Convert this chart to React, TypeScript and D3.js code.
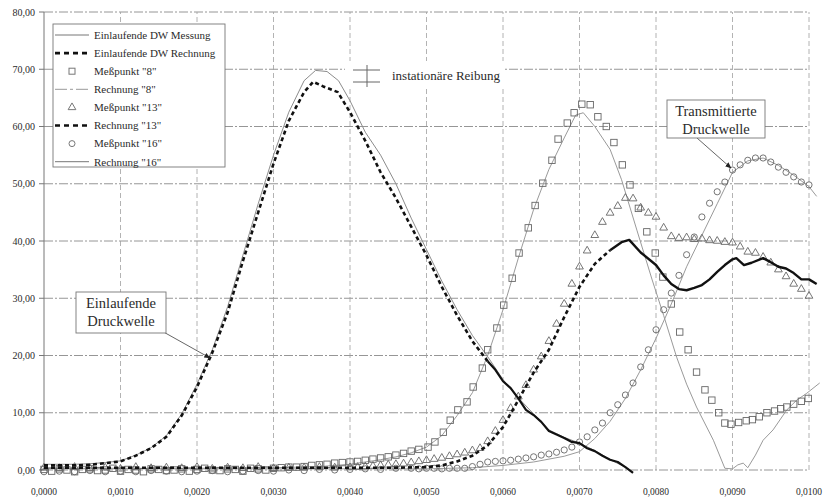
import React, { useEffect, useRef } from 'react';
import * as d3 from 'd3';

type Pt = [number, number]; // [Zeit in ms, Druck]

// Achsen
const xTicks = [0, 1, 2, 3, 4, 5, 6, 7, 8, 9, 10];
const yTicks = [0, 10, 20, 30, 40, 50, 60, 70, 80];

// Einlaufende Druckwelle
const einlMessung: Pt[] = [
  [0, 1.0], [0.4, 1.0], [0.6, 1.1], [0.8, 1.3], [1.0, 1.6], [1.2, 2.6], [1.4, 3.9], [1.6, 6.0],
  [1.8, 9.8], [2.0, 15.0], [2.2, 21.0], [2.4, 28.5], [2.6, 37.5], [2.8, 46.5], [3.0, 55.0],
  [3.2, 62.5], [3.4, 68.0], [3.55, 69.8], [3.7, 69.6], [3.85, 68.0], [4.0, 64.5], [4.2, 59.0],
  [4.4, 55.0], [4.6, 50.0], [4.8, 44.0], [5.0, 38.5], [5.2, 33.0], [5.4, 28.0], [5.6, 23.5],
  [5.8, 19.8], [6.0, 15.8], [6.2, 12.6], [6.4, 9.8], [6.6, 7.0], [6.8, 5.7], [7.0, 4.7],
  [7.2, 3.4], [7.4, 1.8], [7.6, 0.5], [7.7, -0.4],
];
const einlRechnung: Pt[] = [
  [0, 0.8], [0.4, 0.8], [0.6, 0.9], [0.8, 1.2], [1.0, 1.5], [1.2, 2.5], [1.4, 3.8], [1.6, 5.8],
  [1.8, 9.5], [2.0, 14.5], [2.2, 20.5], [2.4, 27.5], [2.6, 36.5], [2.8, 45.0], [3.0, 53.5],
  [3.2, 61.0], [3.4, 66.0], [3.52, 67.8], [3.65, 67.0], [3.84, 66.0], [4.0, 62.5], [4.2, 57.5],
  [4.4, 52.0], [4.6, 47.5], [4.8, 42.5], [5.0, 37.5], [5.2, 32.0], [5.4, 27.0], [5.6, 22.5],
  [5.8, 19.0], [5.9, 17.5], [6.0, 15.5], [6.1, 14.3], [6.2, 12.5], [6.3, 10.5], [6.4, 9.6],
  [6.5, 8.4], [6.6, 6.8], [6.7, 6.2], [6.8, 5.6], [6.9, 4.9], [7.0, 4.7], [7.1, 3.8],
  [7.2, 3.3], [7.3, 2.5], [7.4, 1.8], [7.5, 1.4], [7.6, 0.5], [7.7, -0.5],
];

// Meßpunkt "8"
const mp8: Pt[] = [
  [0.0, 0.1], [0.1, -0.2], [0.2, 0.2], [0.3, 0.0], [0.4, -0.3], [0.5, 0.1], [0.6, 0.2], [0.7, -0.1],
  [0.8, 0.0], [0.9, 0.3], [1.0, -0.2], [1.1, 0.1], [1.2, 0.0], [1.3, -0.3], [1.4, 0.2], [1.5, 0.1],
  [1.6, -0.1], [1.7, 0.0], [1.8, 0.2], [1.9, -0.2], [2.0, 0.1], [2.1, 0.3], [2.2, 0.0], [2.3, -0.1],
  [2.4, 0.2], [2.5, 0.1], [2.6, -0.2], [2.7, 0.3], [2.8, 0.2], [2.9, 0.0], [3.0, 0.3], [3.1, 0.4],
  [3.2, 0.5], [3.3, 0.5], [3.4, 0.6], [3.5, 0.8], [3.6, 0.9], [3.7, 1.0], [3.8, 1.2], [3.9, 1.3],
  [4.0, 1.4], [4.1, 1.5], [4.2, 1.7], [4.3, 1.9], [4.4, 2.1], [4.5, 2.3], [4.6, 2.6], [4.7, 2.9],
  [4.8, 3.3], [4.9, 3.6], [5.02, 4.0], [5.11, 4.9], [5.22, 6.6], [5.31, 8.7], [5.41, 10.5],
  [5.53, 11.9], [5.61, 14.5], [5.73, 17.8], [5.8, 21.0], [5.92, 24.8], [6.01, 28.8], [6.12, 33.5],
  [6.21, 37.9], [6.33, 42.3], [6.42, 46.2], [6.52, 50.1], [6.64, 54.1], [6.72, 57.8], [6.84, 60.6],
  [6.93, 62.4], [7.03, 63.9], [7.14, 63.8], [7.24, 61.7], [7.35, 60.0], [7.45, 57.2], [7.56, 53.3],
  [7.66, 49.8], [7.77, 45.7], [7.88, 41.6], [7.99, 37.9], [8.09, 33.7], [8.2, 29.0], [8.31, 24.1],
  [8.42, 21.0], [8.53, 17.1], [8.64, 14.0], [8.73, 12.2], [8.82, 10.0], [8.9, 8.2], [8.98, 8.0],
  [9.08, 8.3], [9.18, 8.6], [9.26, 8.8], [9.35, 9.3], [9.45, 10.0], [9.55, 10.3], [9.63, 10.7],
  [9.71, 11.0], [9.8, 11.5], [9.9, 12.0], [9.99, 12.5],
];
const re8: Pt[] = [
  [0, 0.3], [2.0, 0.3], [3.0, 0.4], [3.6, 0.6], [4.0, 1.0], [4.4, 1.8], [4.6, 2.3], [4.8, 3.0],
  [5.0, 4.0], [5.2, 6.0], [5.4, 9.5], [5.6, 13.5], [5.8, 20.0], [6.0, 28.0], [6.2, 37.0],
  [6.4, 45.5], [6.6, 52.5], [6.8, 58.0], [6.95, 62.0], [7.05, 62.4], [7.2, 60.0], [7.4, 56.0],
  [7.55, 50.7], [7.75, 41.9], [7.95, 33.2], [8.1, 27.0], [8.27, 19.7], [8.4, 15.0], [8.53, 11.0],
  [8.75, 5.2], [8.9, 0.3], [9.0, 0.2], [9.07, 0.9], [9.14, 1.2], [9.2, 0.4], [9.3, 2.6],
  [9.4, 5.2], [9.53, 7.0], [9.71, 10.5], [9.84, 12.2], [9.97, 13.4], [10.14, 15.2],
];

// Meßpunkt "13"
const mp13: Pt[] = [
  [0.0, 0.4], [0.2, 0.3], [0.4, 0.5], [0.6, 0.3], [0.8, 0.4], [1.0, 0.2], [1.2, 0.5], [1.4, 0.3],
  [1.6, 0.4], [1.8, 0.3], [2.0, 0.5], [2.2, 0.2], [2.4, 0.4], [2.6, 0.3], [2.8, 0.5], [3.0, 0.3],
  [3.2, 0.4], [3.4, 0.4], [3.6, 0.5], [3.8, 0.4], [4.0, 0.5], [4.1, 0.5], [4.2, 0.6], [4.3, 0.7],
  [4.4, 0.8], [4.5, 0.9], [4.6, 1.0], [4.7, 1.1], [4.8, 1.3], [4.9, 1.5], [5.0, 1.7], [5.1, 1.9],
  [5.2, 2.1], [5.3, 2.4], [5.4, 2.7], [5.5, 3.0], [5.6, 3.4], [5.7, 3.8], [5.8, 5.0], [5.9, 6.8],
  [6.0, 8.7], [6.1, 10.8], [6.2, 12.8], [6.3, 14.8], [6.4, 17.5], [6.5, 19.8], [6.6, 22.5],
  [6.7, 25.5], [6.8, 29.0], [6.9, 32.5], [7.0, 35.5], [7.1, 38.3], [7.2, 41.0], [7.3, 43.3],
  [7.4, 44.9], [7.5, 46.1], [7.6, 47.5], [7.7, 47.4], [7.8, 45.8], [7.9, 44.9], [8.0, 44.2],
  [8.1, 42.3], [8.2, 40.8], [8.3, 40.5], [8.4, 40.6], [8.5, 40.3], [8.6, 40.4], [8.7, 40.1],
  [8.8, 40.0], [8.9, 39.8], [9.0, 39.7], [9.1, 39.0], [9.2, 38.1], [9.3, 37.9], [9.4, 37.2],
  [9.5, 36.2], [9.6, 35.0], [9.7, 33.8], [9.8, 32.5], [9.9, 31.6], [10.0, 30.4],
];
const re13: Pt[] = [
  [0, 0.4], [2.0, 0.4], [4.0, 0.4], [4.6, 0.4], [5.0, 0.5], [5.2, 0.8], [5.4, 1.5], [5.6, 2.5],
  [5.8, 4.3], [6.0, 7.5], [6.2, 12.2], [6.4, 17.0], [6.6, 21.0], [6.8, 26.7], [7.0, 32.0],
  [7.2, 36.0], [7.4, 38.4], [7.55, 39.8], [7.65, 40.2], [7.8, 38.0], [8.0, 35.8], [8.1, 34.0],
  [8.2, 32.5], [8.3, 31.6], [8.4, 31.4], [8.5, 31.8], [8.6, 32.3], [8.7, 33.3], [8.8, 34.6],
  [8.9, 35.8], [9.0, 36.8], [9.05, 37.0], [9.15, 35.8], [9.25, 36.2], [9.4, 37.0], [9.5, 36.3],
  [9.6, 35.5], [9.7, 35.2], [9.8, 34.4], [9.9, 33.3], [10.0, 33.3], [10.1, 32.5],
];

// Meßpunkt "16"
const mp16: Pt[] = [
  [0.0, -0.3], [0.2, -0.2], [0.4, -0.3], [0.6, -0.1], [0.8, -0.3], [1.0, -0.2], [1.2, -0.3],
  [1.4, -0.1], [1.6, -0.2], [1.8, -0.3], [2.0, -0.2], [2.2, -0.1], [2.4, -0.3], [2.6, -0.2],
  [2.8, -0.1], [3.0, -0.2], [3.2, 0.0], [3.4, -0.1], [3.6, 0.1], [3.8, 0.0], [4.0, 0.1], [4.2, 0.2],
  [4.4, 0.1], [4.6, 0.3], [4.8, 0.3], [4.9, 0.2], [5.0, 0.3], [5.1, 0.3], [5.2, 0.2], [5.3, 0.3],
  [5.4, 0.3], [5.5, 0.3], [5.6, 0.6], [5.7, 1.0], [5.8, 1.4], [5.9, 1.5], [6.0, 1.6], [6.1, 1.7],
  [6.2, 1.9], [6.3, 2.1], [6.4, 2.3], [6.5, 2.6], [6.6, 2.8], [6.7, 3.1], [6.8, 3.5], [6.9, 4.0],
  [7.0, 4.9], [7.1, 5.8], [7.2, 7.0], [7.3, 8.2], [7.4, 10.0], [7.5, 11.4], [7.6, 13.1],
  [7.7, 15.2], [7.8, 18.0], [7.9, 21.0], [8.0, 24.5], [8.1, 28.0], [8.2, 30.9], [8.3, 34.0],
  [8.4, 37.6], [8.5, 40.7], [8.6, 44.2], [8.7, 46.6], [8.8, 48.6], [8.9, 50.3], [9.0, 52.4],
  [9.1, 53.3], [9.2, 54.1], [9.3, 54.5], [9.4, 54.5], [9.5, 53.8], [9.6, 52.9], [9.7, 52.0],
  [9.8, 51.2], [9.9, 50.3], [10.0, 49.8],
];
const re16: Pt[] = [
  [0, 0.2], [5.0, 0.2], [5.6, 0.4], [6.0, 0.8], [6.4, 1.4], [6.8, 2.4], [7.0, 3.2], [7.2, 5.5],
  [7.4, 8.5], [7.6, 12.5], [7.8, 17.5], [8.0, 23.0], [8.2, 29.0], [8.4, 35.5], [8.6, 41.0],
  [8.8, 46.5], [9.0, 52.0], [9.2, 54.0], [9.4, 54.5], [9.6, 53.2], [9.8, 51.5], [10.0, 49.5],
  [10.1, 47.8],
];

const legendLabels = [
  'Einlaufende DW Messung',
  'Einlaufende DW Rechnung',
  'Meßpunkt "8"',
  'Rechnung "8"',
  'Meßpunkt "13"',
  'Rechnung "13"',
  'Meßpunkt "16"',
  'Rechnung "16"',
];

const FONT = '"Liberation Serif", "DejaVu Serif", serif';
const INK = '#2b2b2b';

export default function App() {
  const svgRef = useRef<SVGSVGElement>(null);

  useEffect(() => {
    if (!svgRef.current) return;
    const svg = d3.select(svgRef.current);
    svg.selectAll('*').remove();

    const x = d3.scaleLinear().domain([0, 10]).range([44, 809]);
    const y = d3.scaleLinear().domain([0, 80]).range([470, 12]);

    svg.append('rect').attr('width', 830).attr('height', 499).attr('fill', '#fff');

    // Gitter
    svg.append('g').selectAll('line').data(yTicks).join('line')
      .attr('x1', x(0)).attr('x2', x(10))
      .attr('y1', d => y(d)).attr('y2', d => y(d))
      .attr('stroke', '#8a8a8a').attr('stroke-width', 0.9)
      .attr('stroke-dasharray', '9,2,2,2');
    svg.append('g').selectAll('line').data(xTicks.slice(1)).join('line')
      .attr('x1', d => x(d)).attr('x2', d => x(d))
      .attr('y1', y(0)).attr('y2', y(80))
      .attr('stroke', '#a0a0a0').attr('stroke-width', 0.8)
      .attr('stroke-dasharray', '5,3');
    svg.append('line')
      .attr('x1', x(0)).attr('x2', x(0)).attr('y1', y(0)).attr('y2', y(80))
      .attr('stroke', '#777').attr('stroke-width', 1);
    svg.append('g').selectAll('line').data(yTicks).join('line')
      .attr('x1', x(0) - 5).attr('x2', x(0))
      .attr('y1', d => y(d)).attr('y2', d => y(d))
      .attr('stroke', '#777');

    // Achsenbeschriftung
    const fmt = (v: number, dec: number) => v.toFixed(dec).replace('.', ',');
    svg.append('g').selectAll('text').data(yTicks).join('text')
      .attr('x', 35).attr('y', d => y(d)).attr('dy', '0.35em')
      .attr('text-anchor', 'end')
      .attr('font-family', FONT).attr('font-size', 10).attr('fill', INK)
      .text(d => fmt(d, 2));
    svg.append('g').selectAll('text').data(xTicks).join('text')
      .attr('x', d => x(d)).attr('y', 495)
      .attr('text-anchor', 'middle')
      .attr('font-family', FONT).attr('font-size', 9.5).attr('fill', INK)
      .text(d => fmt(d / 1000, 4));

    const line = d3.line<Pt>().x(d => x(d[0])).y(d => y(d[1]));

    const drawLine = (data: Pt[], stroke: string, width: number, dash?: string) => {
      const p = svg.append('path').datum(data)
        .attr('d', line).attr('fill', 'none')
        .attr('stroke', stroke).attr('stroke-width', width)
        .attr('stroke-linejoin', 'round');
      if (dash) p.attr('stroke-dasharray', dash);
    };

    // Dünne Linien
    drawLine(einlMessung, '#8c8c8c', 1);
    drawLine(re8, '#9a9a9a', 1);
    drawLine(re16, '#9a9a9a', 1);

    // Marker
    const mk = svg.append('g').attr('fill', 'none').attr('stroke', '#666').attr('stroke-width', 0.9);
    mk.selectAll('rect').data(mp8).join('rect')
      .attr('x', d => x(d[0]) - 3.2).attr('y', d => y(d[1]) - 3.2)
      .attr('width', 6.4).attr('height', 6.4);
    const tri = d3.symbol().type(d3.symbolTriangle).size(26);
    mk.selectAll('path.tri').data(mp13).join('path').attr('class', 'tri')
      .attr('transform', d => `translate(${x(d[0])},${y(d[1])})`)
      .attr('d', tri() as string);
    mk.selectAll('circle').data(mp16).join('circle')
      .attr('cx', d => x(d[0])).attr('cy', d => y(d[1])).attr('r', 3.1);

    // Dicke Rechnungslinien (gestrichelt, am Ende durchgezogen)
    drawLine(einlRechnung.filter(d => d[0] <= 5.8), '#111', 2.6, '4,3');
    drawLine(einlRechnung.filter(d => d[0] >= 5.8), '#111', 2.2);
    drawLine(re13.filter(d => d[0] <= 7.4), '#111', 2.6, '4,3');
    drawLine(re13.filter(d => d[0] >= 7.4), '#111', 2.4);

    // Legende
    const lg = svg.append('g');
    lg.append('rect').attr('x', 53).attr('y', 24).attr('width', 172).attr('height', 143)
      .attr('fill', '#fff').attr('stroke', '#777').attr('stroke-width', 0.9);
    const rowY = (i: number) => 35 + i * 18.1;
    lg.selectAll('text').data(legendLabels).join('text')
      .attr('x', 94).attr('y', (_, i) => rowY(i)).attr('dy', '0.35em')
      .attr('font-family', FONT).attr('font-size', 11).attr('fill', INK)
      .text(d => d);
    const sample = (i: number, stroke: string, w: number, dash?: string) => {
      const l = lg.append('line').attr('x1', 55).attr('x2', 89)
        .attr('y1', rowY(i)).attr('y2', rowY(i))
        .attr('stroke', stroke).attr('stroke-width', w);
      if (dash) l.attr('stroke-dasharray', dash);
    };
    sample(0, '#777', 1);
    sample(1, '#111', 2.6, '5,4');
    sample(3, '#999', 1, '12,3,3,3');
    sample(5, '#111', 2.6, '5,4');
    sample(7, '#777', 1);
    lg.append('rect').attr('x', 69).attr('y', rowY(2) - 3).attr('width', 6).attr('height', 6)
      .attr('fill', 'none').attr('stroke', '#777');
    lg.append('path').attr('transform', `translate(72,${rowY(4)})`).attr('d', tri() as string)
      .attr('fill', 'none').attr('stroke', '#777');
    lg.append('circle').attr('cx', 72).attr('cy', rowY(6)).attr('r', 3)
      .attr('fill', 'none').attr('stroke', '#777');

    // instationäre Reibung
    svg.append('rect').attr('x', 345).attr('y', 61).attr('width', 160).attr('height', 27).attr('fill', '#fff');
    const rb = svg.append('g').attr('stroke', '#666').attr('stroke-width', 1);
    rb.append('line').attr('x1', 353).attr('x2', 380).attr('y1', 70).attr('y2', 70);
    rb.append('line').attr('x1', 353).attr('x2', 380).attr('y1', 82).attr('y2', 82);
    rb.append('line').attr('x1', 367).attr('x2', 367).attr('y1', 65).attr('y2', 87);
    svg.append('text').attr('x', 392).attr('y', 80)
      .attr('font-family', FONT).attr('font-size', 13).attr('fill', INK)
      .text('instationäre Reibung');

    // Pfeile und Textfelder
    const defs = svg.append('defs');
    defs.append('marker').attr('id', 'arr').attr('viewBox', '0 0 10 10')
      .attr('refX', 9).attr('refY', 5).attr('markerWidth', 7).attr('markerHeight', 7)
      .attr('orient', 'auto')
      .append('path').attr('d', 'M0,1L10,5L0,9Z').attr('fill', '#222');

    const callout = (bx: number, by: number, bw: number, bh: number, lines: string[], from: Pt, to: Pt) => {
      svg.append('line').attr('x1', from[0]).attr('y1', from[1]).attr('x2', to[0]).attr('y2', to[1])
        .attr('stroke', '#555').attr('stroke-width', 0.9).attr('marker-end', 'url(#arr)');
      svg.append('rect').attr('x', bx).attr('y', by).attr('width', bw).attr('height', bh)
        .attr('fill', '#fff').attr('stroke', '#777').attr('stroke-width', 0.9);
      lines.forEach((t, i) => {
        svg.append('text').attr('x', bx + bw / 2).attr('y', by + 16 + i * 18)
          .attr('text-anchor', 'middle')
          .attr('font-family', FONT).attr('font-size', 14.5).attr('fill', INK)
          .text(t);
      });
    };
    callout(76, 292, 90, 41, ['Einlaufende', 'Druckwelle'], [160, 330], [210, 358]);
    callout(667, 100, 98, 38, ['Transmittierte', 'Druckwelle'], [697, 138], [731, 168]);
  }, []);

  return (
    <div style={{ position: 'absolute', left: 0, top: 0 }}>
      <svg ref={svgRef} width={830} height={499} style={{ display: 'block' }} />
    </div>
  );
}
